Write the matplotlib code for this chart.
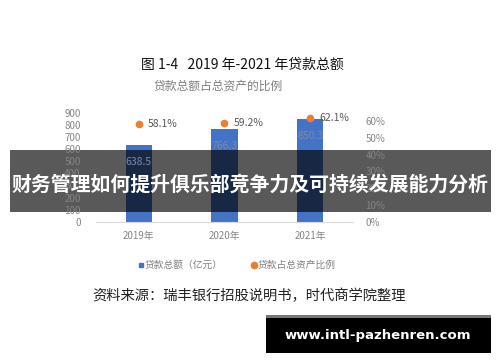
import matplotlib
matplotlib.use("Agg")
import matplotlib.pyplot as plt
from matplotlib.patches import Rectangle
from matplotlib.lines import Line2D

plt.rcParams['font.family'] = ['Noto Sans CJK SC', 'DejaVu Sans']

years = ['2019年', '2020年', '2021年']
loans = [638.5, 766.3, 850.3]
ratio = [0.581, 0.592, 0.621]
left_ticks = [0, 100, 200, 300, 400, 500, 600, 700, 800, 900]
right_ticks = [0, 0.1, 0.2, 0.3, 0.4, 0.5, 0.6]

BLUE = '#4472c4'
ORANGE = '#ed7d31'
GRAY = '#858585'

W, H = 500, 362


def fx(px):
    return px / W


def fy(py):
    return 1 - py / H


def main():
    fig = plt.figure(figsize=(5, 3.62), dpi=100)
    ax = fig.add_axes([fx(96), fy(221.7), fx(353) - fx(96), fy(113) - fy(221.7)])
    ax2 = ax.twinx()

    x = range(len(years))
    ax.bar(x, loans, width=0.31, color=BLUE, zorder=1)
    ax.set_xlim(-0.5, 2.5)
    ax.set_ylim(0, 900)
    ax.set_yticks(left_ticks)
    ax.set_xticks(list(x))
    ax.set_xticklabels(years)
    for a in (ax, ax2):
        for s in a.spines.values():
            s.set_visible(False)
    ax.spines['bottom'].set_visible(True)
    ax.spines['bottom'].set_color('#d9d9d9')
    ax.tick_params(axis='both', length=0, colors=GRAY, labelsize=7)
    ax.tick_params(axis='y', pad=11)
    ax.tick_params(axis='x', pad=7)
    ax.yaxis.set_zorder(2.5)

    for i, v in enumerate(loans):
        ax.annotate(f'{v:.1f}', (i, v), xytext=(0, -17), textcoords='offset pixels',
                    ha='center', va='center', fontsize=7.5, color='#7c8aa6', zorder=3)

    ax2.plot(x, ratio, 'o', color=ORANGE, markersize=4.5, zorder=3)
    ax2.set_ylim(0, 0.649)
    ax2.set_yticks(right_ticks)
    ax2.set_yticklabels([f'{int(round(t * 100))}%' for t in right_ticks])
    ax2.tick_params(axis='y', length=0, colors=GRAY, labelsize=7, pad=9)
    for i, r in enumerate(ratio):
        ax2.annotate(f'{r * 100:.1f}%', (i, r), xytext=(9, 0), textcoords='offset pixels',
                     ha='left', va='center', fontsize=7.5, color='#595959')

    # overlay banner
    ax.add_patch(Rectangle((fx(10), fy(211.7)), fx(491) - fx(10), fy(150) - fy(211.7),
                           transform=fig.transFigure, clip_on=False,
                           facecolor='black', alpha=0.65, linewidth=0, zorder=1.2))
    fig.text(0.5, fy(184), '财务管理如何提升俱乐部竞争力及可持续发展能力分析',
             ha='center', va='center', fontsize=14.3, fontweight='bold', color='white')

    fig.text(fx(242), fy(65), '图 1-4   2019 年-2021 年贷款总额', ha='center', va='center',
             fontsize=10, color='#111111', fontweight='medium')
    fig.text(fx(218), fy(86), '贷款总额占总资产的比例', ha='center', va='center',
             fontsize=8.5, color='#7f7f7f')

    handles = [Line2D([], [], marker='s', color=BLUE, linestyle='', markersize=3.5),
               Line2D([], [], marker='o', color=ORANGE, linestyle='', markersize=4.5)]
    fig.legend(handles, ['贷款总额（亿元）', '贷款占总资产比例'], loc='center',
               bbox_to_anchor=(fx(237), fy(265)), ncol=2, frameon=False, fontsize=7,
               handlelength=0.5, handletextpad=0.1, columnspacing=3.0, labelcolor='#7f7f7f')

    fig.text(fx(92), fy(296), '资料来源：瑞丰银行招股说明书，时代商学院整理', ha='left',
             va='center', fontsize=10.3, color='#222222')

    # watermark box
    fig.patches.append(Rectangle((fx(266), fy(353)), fx(491) - fx(266), fy(318) - fy(353),
                                 transform=fig.transFigure, facecolor='black', linewidth=0))
    fig.patches.append(Rectangle((fx(266), fy(318)), fx(491) - fx(266), fy(315) - fy(318),
                                 transform=fig.transFigure, facecolor='#777777', linewidth=0))
    fig.text(fx(378), fy(335), 'www.intl-pazhenren.com', ha='center', va='center',
             fontsize=9.5, fontweight='bold', color='white', family='DejaVu Sans')

    fig.savefig('out.png', dpi=100, facecolor='white')


if __name__ == "__main__":
    main()
